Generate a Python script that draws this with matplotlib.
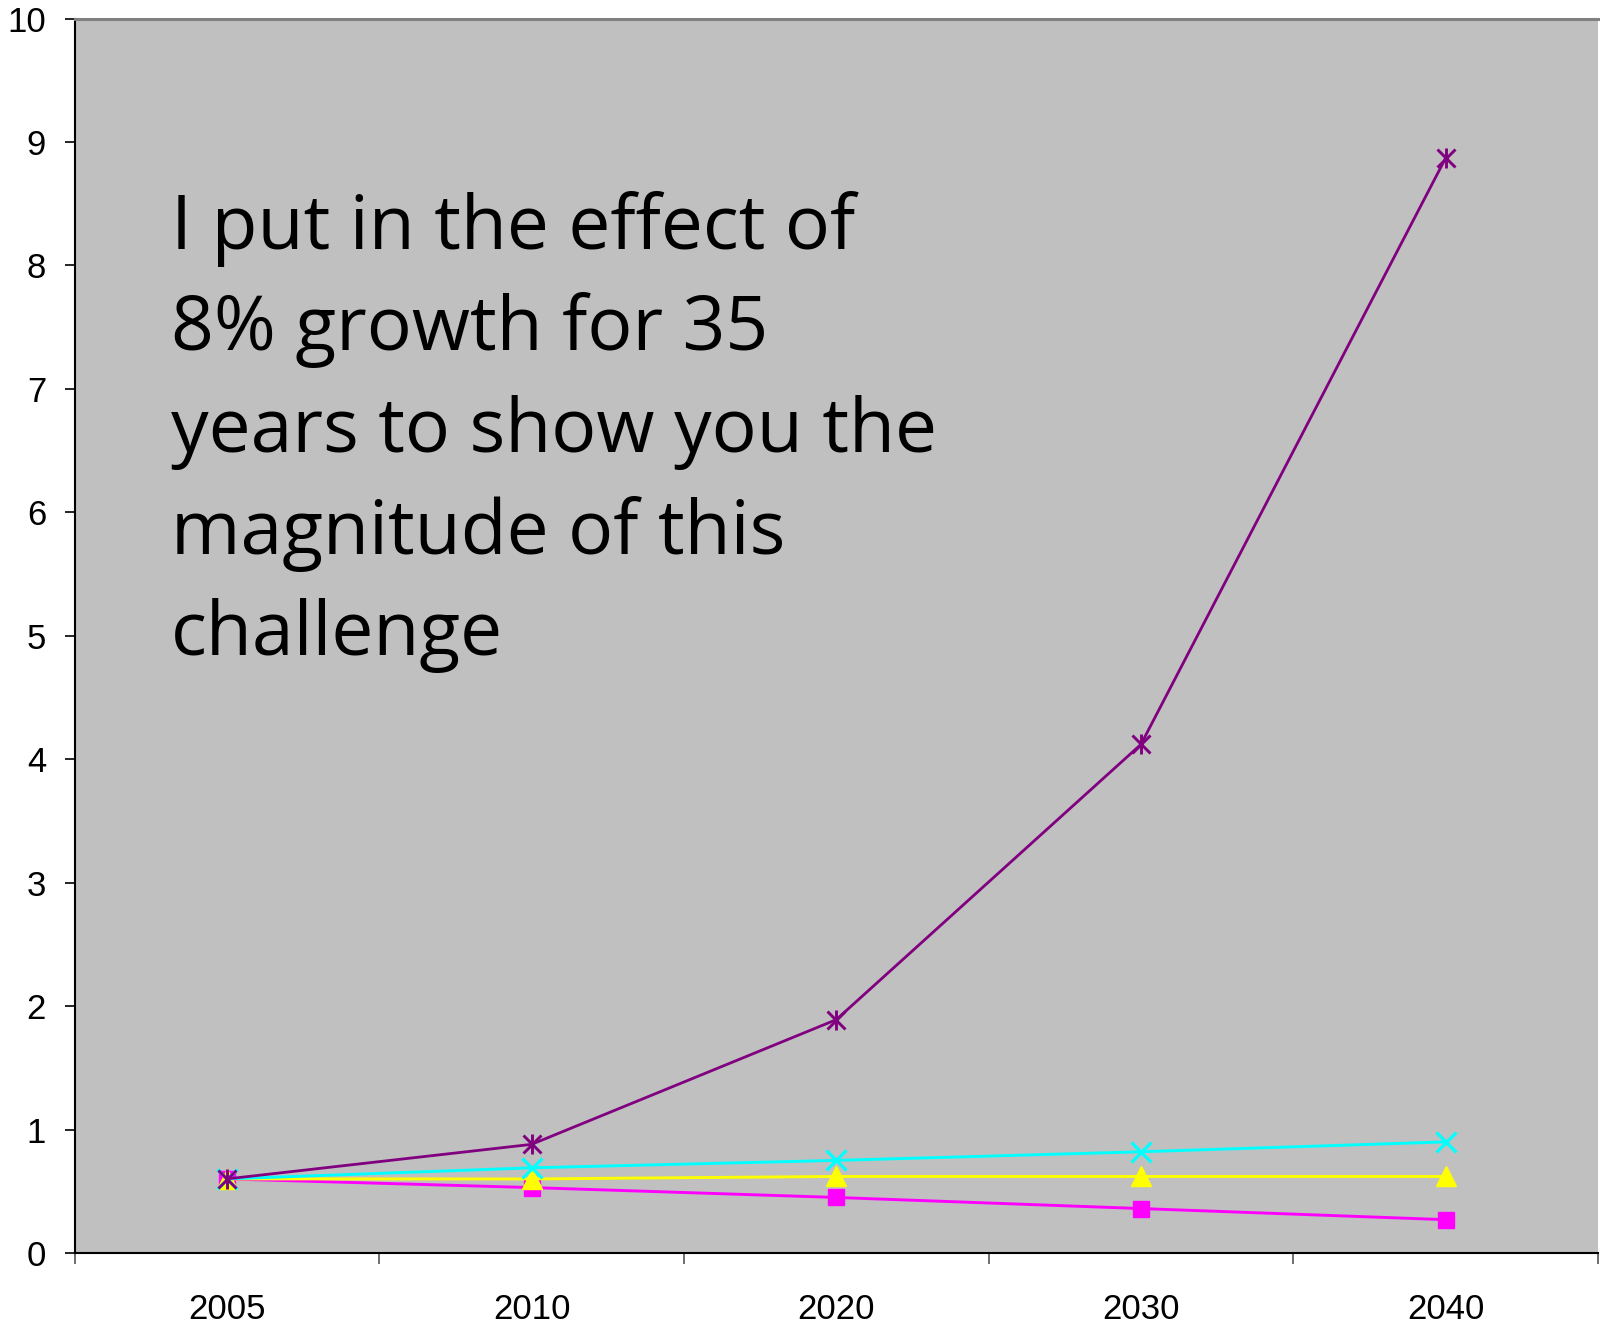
import matplotlib
matplotlib.use("Agg")
import matplotlib.pyplot as plt
from matplotlib.ticker import FixedLocator

years = ["2005", "2010", "2020", "2030", "2040"]
growth8 = [0.60, 0.88, 1.89, 4.12, 8.87]
cyan_series = [0.60, 0.69, 0.75, 0.82, 0.90]
yellow_series = [0.60, 0.60, 0.62, 0.62, 0.62]
magenta_series = [0.60, 0.53, 0.45, 0.36, 0.27]
yticks = list(range(0, 11))
note_lines = ["I put in the effect of", "8% growth for 35", "years to show you the",
              "magnitude of this", "challenge"]

W, H = 1600, 1326
fig = plt.figure(figsize=(W/100, H/100), dpi=100)
ax = fig.add_axes([74.5/W, 1 - 1253/H, (1598-74.5)/W, (1253-18.5)/H])
ax.set_facecolor("#C0C0C0")
x = list(range(len(years)))

ax.plot(x, magenta_series, color="#FF00FF", lw=2.1, marker="s", ms=11.5, clip_on=False, zorder=3)
ax.plot(x, yellow_series, color="#FFFF00", lw=2.1, marker="^", ms=14.5, clip_on=False, zorder=4)
ax.plot(x, cyan_series, color="#00FFFF", lw=2.1, marker="x", ms=14, mew=2.3, clip_on=False, zorder=5)
ax.plot(x, growth8, color="#800080", lw=2.0, marker="x", ms=13, mew=2.1, clip_on=False, zorder=6)
ax.plot(x, growth8, color="#800080", lw=0, marker="|", ms=14, mew=2.1, clip_on=False, zorder=6)

ax.set_xlim(-0.5, len(years) - 0.5)
ax.set_ylim(0, 10)
ax.set_yticks(yticks)
ax.set_yticklabels([str(t) for t in yticks], fontfamily="Liberation Sans", fontsize=25)
ax.tick_params(axis="y", direction="out", length=7.5, width=1.2, color="black", pad=13)

ax.xaxis.set_major_locator(FixedLocator([i - 0.5 for i in range(len(years) + 1)]))
ax.xaxis.set_minor_locator(FixedLocator(x))
ax.set_xticklabels([], minor=False)
ax.set_xticklabels(years, minor=True, fontfamily="Liberation Sans", fontsize=25)
ax.tick_params(axis="x", which="major", direction="out", length=8, width=1.2, color="#555555")
ax.tick_params(axis="x", which="minor", length=0, pad=29)

ax.spines["right"].set_visible(False)
ax.spines["top"].set_color("#808080")
ax.spines["top"].set_linewidth(2.2)
ax.spines["left"].set_color("black")
ax.spines["left"].set_linewidth(1.5)
ax.spines["bottom"].set_color("black")
ax.spines["bottom"].set_linewidth(1.5)

for i, line in enumerate(note_lines):
    fig.text(171/W, 1 - (249 + 101.5*i)/H, line, fontfamily="Open Sans",
             fontsize=54, va="baseline", ha="left", color="black")

fig.savefig("out.png", dpi=100)
